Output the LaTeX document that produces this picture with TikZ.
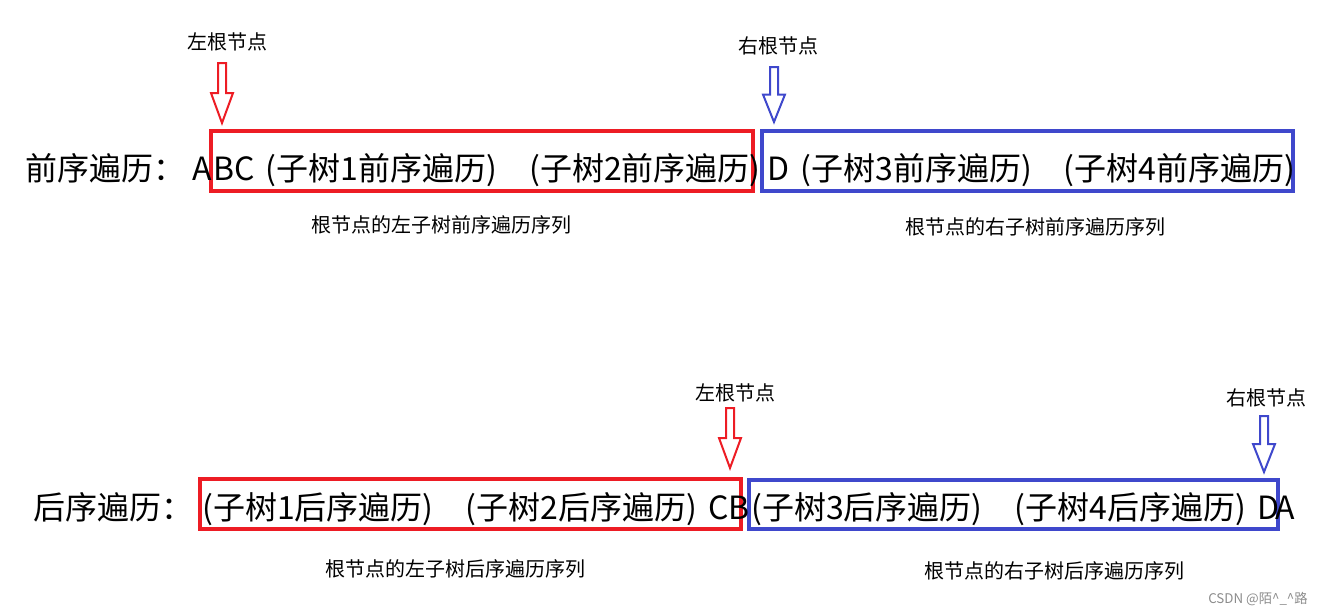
\documentclass[tikz,border=0pt]{standalone}
\usepackage{fontspec}
\setmainfont{Noto Sans CJK SC}
\usepackage{xcolor}
\definecolor{boxred}{RGB}{237,28,36}
\definecolor{boxblue}{RGB}{63,72,204}
\newcommand{\midgap}{\hspace{1em}}
\newcommand{\seqfont}{\fontsize{24}{28}\selectfont\setlength{\spaceskip}{0.35em}}
\tikzset{
  seqtext/.style={anchor=base west, inner sep=0pt, font=\seqfont},
  notetext/.style={inner sep=0pt, font=\fontsize{15}{18}\selectfont},
  seqbox/.style={line width=3pt},
  pics/rootarrow/.style={code={
    \draw[line width=1.5pt] (-4,0) -- (4,0) -- (4,#1/2) -- (11,#1/2) -- (0,#1) -- (-11,#1/2) -- (-4,#1/2) -- cycle;
  }}
}
\begin{document}
\begin{tikzpicture}[x=0.75pt,y=-0.75pt]
\useasboundingbox (0,0) rectangle (1330,615);

% preorder row
\coordinate (PL) at (222,63);
\coordinate (PR) at (774,67);
\draw[seqbox, boxred] (211,131) rectangle (753,191);
\draw[seqbox, boxblue] (762,131) rectangle (1293,191);
\node[seqtext] (pre) at (25,180) {前序遍历：};
\node[seqtext] (preA) at (192,180) {A};
\node[seqtext] (preL) at (213,180) {BC (子树1前序遍历)\midgap(子树2前序遍历)};
\node[seqtext] (preR) at (767,180) {D (子树3前序遍历)\midgap(子树4前序遍历)};
\pic[boxred] at (PL) {rootarrow=60};
\pic[boxblue] at (PR) {rootarrow=55};
\node[notetext] (preLroot) at (227,42) {左根节点};
\node[notetext] (preRroot) at (778,46) {右根节点};
\node[notetext] (preLnote) at (441,225) {根节点的左子树前序遍历序列};
\node[notetext] (preRnote) at (1035,227) {根节点的右子树前序遍历序列};

% postorder row
\coordinate (QL) at (730,408);
\coordinate (QR) at (1264,416);
\draw[seqbox, boxred] (200,479) rectangle (741,529);
\draw[seqbox, boxblue] (749,480) rectangle (1278,529);
\node[seqtext] (post) at (33,519) {后序遍历：};
\node[seqtext] (postL) at (202,519) {(子树1后序遍历)\midgap(子树2后序遍历) CB};
\node[seqtext] (postR) at (751,519) {(子树3后序遍历)\midgap(子树4后序遍历) D};
\node[seqtext] (postA) at (1275,519) {A};
\pic[boxred] at (QL) {rootarrow=60};
\pic[boxblue] at (QR) {rootarrow=56};
\node[notetext] (postLroot) at (735,393) {左根节点};
\node[notetext] (postRroot) at (1266,398) {右根节点};
\node[notetext] (postLnote) at (455,569) {根节点的左子树后序遍历序列};
\node[notetext] (postRnote) at (1054,571) {根节点的右子树后序遍历序列};

\node[inner sep=0pt, text=black!45, font=\fontsize{10}{12}\selectfont] (mark) at (1258,599) {CSDN @陌\textasciicircum\_\textasciicircum 路};
\end{tikzpicture}
\end{document}
